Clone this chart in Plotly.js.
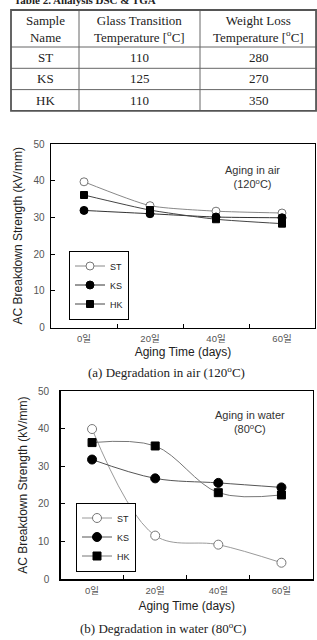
<!DOCTYPE html>
<html><head><meta charset="utf-8">
<script src="https://cdn.plot.ly/plotly-3.0.1.min.js"></script>
<style>html,body{margin:0;padding:0;background:#fff}#chart{width:317px;height:640px}</style>
</head><body><div id="chart"></div>
<script>
// ---- data ----
const tableTitle = "Table 2. Analysis DSC & TGA";
const tableHeaders = ["Sample<br>Name", "Glass Transition<br>Temperature [<sup>o</sup>C]", "Weight Loss<br>Temperature [<sup>o</sup>C]"];
const sampleNames = ["ST", "KS", "HK"];
const glassTransition = [110, 125, 110];
const weightLoss = [280, 270, 350];

const agingDays = ["0일", "20일", "40일", "60일"];
const airST = [39.7, 33.2, 31.7, 31.2];
const airKS = [31.9, 31.0, 30.1, 29.9];
const airHK = [36.1, 32.0, 29.5, 28.3];
const waterST = [39.9, 11.6, 9.2, 4.4];
const waterKS = [31.8, 26.8, 25.6, 24.4];
const waterHK = [36.3, 35.4, 23.0, 22.4];

const seriesNames = ["ST", "KS", "HK"];
const airNote = "Aging in air<br>(120<sup>o</sup>C)";
const waterNote = "Aging in water<br>(80<sup>o</sup>C)";
const captionA = "(a) Degradation in air (120<sup>o</sup>C)";
const captionB = "(b) Degradation in water (80<sup>o</sup>C)";
const yTitle = "AC Breakdown Strength (kV/mm)";
const xTitle = "Aging Time (days)";

// ---- geometry (layout only) ----
const W = 317, H = 640;
const px = v => v / W;
const py = v => 1 - v / H;
const tableLeft = 11, tableTop = 10;
const colWidths = [68, 121, 117];
const rowHeights = [37, 21.3, 21.3, 21.3];

const SANS = 'Arial, "Liberation Sans", "Noto Sans CJK KR", sans-serif';
const SERIF = '"Times New Roman", "Liberation Serif", serif';

// ---- table (shapes + text annotations) ----
const shapes = [];
const annotations = [];
const colEdges = [tableLeft];
colWidths.forEach(w => colEdges.push(colEdges[colEdges.length - 1] + w));
const rowEdges = [tableTop];
rowHeights.forEach(h => rowEdges.push(rowEdges[rowEdges.length - 1] + h));
const tableRight = colEdges[colEdges.length - 1], tableBottom = rowEdges[rowEdges.length - 1];

for (let i = 1; i < colEdges.length - 1; i++) {
  shapes.push({type: "line", xref: "paper", yref: "paper", x0: px(colEdges[i]), x1: px(colEdges[i]),
    y0: py(tableTop), y1: py(tableBottom), line: {color: "#666", width: 1}});
}
for (let j = 1; j < rowEdges.length - 1; j++) {
  shapes.push({type: "line", xref: "paper", yref: "paper", x0: px(tableLeft), x1: px(tableRight),
    y0: py(rowEdges[j]), y1: py(rowEdges[j]), line: {color: "#666", width: 1}});
}
shapes.push({type: "rect", xref: "paper", yref: "paper", x0: px(tableLeft), x1: px(tableRight) - 0.003,
  y0: py(tableBottom), y1: py(tableTop), line: {color: "#555", width: 1.8}});

const tableRows = [tableHeaders, ...sampleNames.map((s, i) => [s, String(glassTransition[i]), String(weightLoss[i])])];
tableRows.forEach((row, r) => {
  row.forEach((txt, c) => {
    annotations.push({text: txt, xref: "paper", yref: "paper",
      x: px((colEdges[c] + colEdges[c + 1]) / 2), y: py((rowEdges[r] + rowEdges[r + 1]) / 2),
      xanchor: "center", yanchor: "middle", showarrow: false,
      font: {family: SERIF, size: 13, color: "#222"}});
  });
});

annotations.push(
  {text: "<b>" + tableTitle + "</b>", xref: "paper", yref: "paper", x: px(12), y: py(0.5), xanchor: "left", yanchor: "middle",
   showarrow: false, font: {family: SERIF, size: 11, color: "#222"}},
  {text: airNote, xref: "paper", yref: "paper", x: px(252), y: py(177), xanchor: "center", yanchor: "middle",
   showarrow: false, font: {family: SANS, size: 11, color: "#333"}},
  {text: waterNote, xref: "paper", yref: "paper", x: px(250), y: py(422), xanchor: "center", yanchor: "middle",
   showarrow: false, font: {family: SANS, size: 11, color: "#333"}},
  {text: captionA, xref: "paper", yref: "paper", x: px(166), y: py(372), xanchor: "center", yanchor: "middle",
   showarrow: false, font: {family: SERIF, size: 13, color: "#222"}},
  {text: captionB, xref: "paper", yref: "paper", x: px(163), y: py(628), xanchor: "center", yanchor: "middle",
   showarrow: false, font: {family: SERIF, size: 13, color: "#222"}}
);

// ---- series ----
function seriesStyle(idx, water) {
  const lineCols = water ? ["#9a9a9a", "#555", "#777"] : ["#888", "#333", "#444"];
  const sym = ["circle", "circle", "square"];
  const fill = ["#fff", "#000", "#000"];
  const size = water ? 9 : 8;
  return {
    mode: "lines+markers",
    line: {color: lineCols[idx], width: 1, shape: "spline", smoothing: water ? 1 : 0.6},
    marker: {symbol: sym[idx], size: idx === 2 ? size - 1 : size, color: fill[idx],
             line: {color: idx === 0 ? "#777" : "#000", width: 1}}
  };
}

const traces = [];
[airST, airKS, airHK].forEach((ys, i) => {
  traces.push(Object.assign({type: "scatter", x: agingDays, y: ys, name: seriesNames[i],
    xaxis: "x", yaxis: "y", legend: "legend"}, seriesStyle(i, false)));
});
[waterST, waterKS, waterHK].forEach((ys, i) => {
  traces.push(Object.assign({type: "scatter", x: agingDays, y: ys, name: seriesNames[i],
    xaxis: "x2", yaxis: "y2", legend: "legend2"}, seriesStyle(i, true)));
});

function xAxis(domain, anchor, titleGap) {
  return {
    domain: domain, anchor: anchor, type: "category", range: [-0.5, 3.5],
    tickson: "boundaries", ticks: "inside", ticklen: 4, tickcolor: "#000",
    showline: true, mirror: true, linecolor: "#000", linewidth: 1.3,
    showgrid: false, zeroline: false,
    tickfont: {family: SANS, size: 9.5, color: "#555"},
    ticklabelstandoff: 2,
    title: {text: xTitle, font: {family: SANS, size: 12, color: "#222"}, standoff: titleGap},
    fixedrange: true
  };
}
function yAxis(domain, anchor, labelGap) {
  return {
    domain: domain, anchor: anchor, range: [0, 50], dtick: 10, tick0: 0,
    ticks: "inside", ticklen: 4, tickcolor: "#000",
    showline: true, mirror: true, linecolor: "#000", linewidth: 1.3,
    showgrid: false, zeroline: false,
    tickfont: {family: SANS, size: 10, color: "#555"},
    ticklabelstandoff: labelGap,
    title: {text: yTitle, font: {family: SANS, size: 12, color: "#222"}, standoff: 8},
    fixedrange: true
  };
}

const legendStyle = {
  bgcolor: "#fff", bordercolor: "#000", borderwidth: 1,
  font: {family: SANS, size: 9, color: "#222"},
  itemwidth: 30, tracegroupgap: 0, xanchor: "center", yanchor: "middle"
};

const layout = {
  width: W, height: H,
  margin: {l: 0, r: 0, t: 0, b: 0},
  paper_bgcolor: "#fff", plot_bgcolor: "#fff",
  showlegend: true,
  xaxis: xAxis([px(51), px(315)], "y", 4),
  yaxis: yAxis([py(327.5), py(144)], "x", 3),
  xaxis2: xAxis([px(60.5), px(313)], "y2", 6),
  yaxis2: yAxis([py(579.3), py(391)], "x2", 8),
  legend: Object.assign({x: px(99), y: py(285)}, legendStyle),
  legend2: Object.assign({x: px(106), y: py(537)}, legendStyle),
  shapes: shapes,
  annotations: annotations
};

Plotly.newPlot("chart", traces, layout, {displayModeBar: false, staticPlot: true});
</script>
</body></html>
